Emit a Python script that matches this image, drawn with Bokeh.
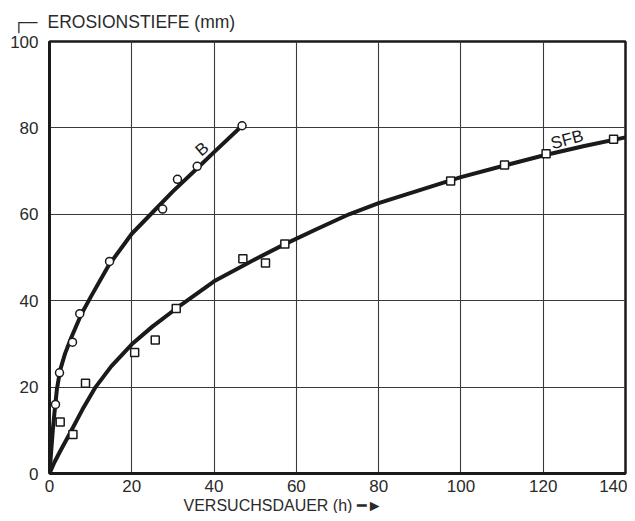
from bokeh.plotting import figure
from bokeh.models import Range1d, Label, FixedTicker, Title
from bokeh.embed import file_html
from bokeh.resources import INLINE
import math

b_hours = [1.46, 2.43, 5.59, 7.36, 14.6, 27.5, 31.1, 35.9, 46.8]
b_depth = [16.0, 23.3, 30.4, 37.0, 49.1, 61.2, 68.1, 71.1, 80.5]

sfb_hours = [2.6, 5.7, 8.75, 20.7, 25.7, 30.8, 47.0, 52.5, 57.2, 97.5, 110.6, 120.7, 137.1]
sfb_depth = [11.9, 9.0, 20.9, 28.0, 30.9, 38.2, 49.7, 48.7, 53.1, 67.7, 71.4, 74.0, 77.4]

# fitted curves as drawn
b_curve_h = [0, 0.4, 0.8, 1.2, 1.8, 2.6, 3.8, 5.3, 7.7, 10.1, 14.4, 20.0, 24.9, 30.0, 36.3, 40.0, 46.8]
b_curve_d = [0, 5.0, 10.0, 14.0, 19.5, 24.0, 27.8, 31.5, 36.8, 41.0, 48.2, 55.5, 60.3, 65.3, 71.0, 74.4, 80.5]

sfb_curve_h = [0, 1.2, 2.4, 4.9, 8.0, 11.2, 15.0, 20.0, 25.0, 30.8, 40.0, 50.0, 57.2, 65.0, 72.8, 80.0, 90.0, 100.0, 110.6, 120.0, 130.0, 140.0]
sfb_curve_d = [0, 2.6, 4.8, 9.2, 14.8, 20.0, 24.8, 29.9, 34.0, 38.2, 44.5, 49.6, 53.1, 56.6, 60.0, 62.6, 65.6, 68.6, 71.3, 73.6, 75.8, 77.8]

x_ticks = [0, 20, 40, 60, 80, 100, 120, 140]
y_ticks = [0, 20, 40, 60, 80, 100]

FONT = "Liberation Sans"
INK = "#1a1a1a"
TXT = "#2a2a2a"

p = figure(width=627, height=513, x_range=Range1d(0, 140), y_range=Range1d(0, 100),
           output_backend="svg", toolbar_location=None,
           min_border_left=49, min_border_right=2, min_border_top=4, min_border_bottom=0)

p.background_fill_color = "white"
p.border_fill_color = "white"
p.outline_line_color = INK
p.outline_line_width = 2.5

for ax, ticks in ((p.xaxis[0], x_ticks), (p.yaxis[0], y_ticks)):
    ax.ticker = FixedTicker(ticks=ticks)
    ax.axis_line_color = INK
    ax.axis_line_width = 3
    ax.major_tick_in = 0
    ax.major_tick_out = 0
    ax.minor_tick_in = 0
    ax.minor_tick_out = 0
    ax.major_label_text_font = FONT
    ax.major_label_text_font_size = "17px"
    ax.major_label_text_color = TXT

p.xaxis.major_label_standoff = 6
p.yaxis.major_label_standoff = 11

p.xgrid.ticker = FixedTicker(ticks=x_ticks[1:-1])
p.ygrid.ticker = FixedTicker(ticks=y_ticks[1:-1])
p.grid.grid_line_color = "#3a3a3a"
p.grid.grid_line_width = 1.1

# axis titles as titles in the side panels
top_title = Title(text="┌─\u2002\u200aEROSIONSTIEFE (mm)", align="left", offset=-37,
                  text_font=FONT, text_font_size="17.5px", text_font_style="normal",
                  text_color=TXT, standoff=19)
p.add_layout(top_title, "above")
bottom_title = Title(text="VERSUCHSDAUER (h) ━►", align="left", offset=134,
                     text_font=FONT, text_font_size="16px", text_font_style="normal",
                     text_color=TXT, standoff=0)
p.add_layout(bottom_title, "below")

# curves
p.line(b_curve_h, b_curve_d, line_color=INK, line_width=4)
p.line(sfb_curve_h, sfb_curve_d, line_color=INK, line_width=4)

# markers
p.scatter(b_hours, b_depth, marker="circle", size=8, line_color=INK, line_width=1.5,
          fill_color="white")
p.scatter(sfb_hours, sfb_depth, marker="square", size=8, line_color=INK, line_width=1.5,
          fill_color="white")

# curve labels
p.add_layout(Label(x=37.1, y=75.1, text="B", angle=math.radians(40),
                   text_font=FONT, text_font_size="17px", text_color=INK,
                   text_align="center", text_baseline="middle"))
p.add_layout(Label(x=125.8, y=77.3, text="SFB", angle=math.radians(15),
                   text_font=FONT, text_font_size="17px", text_color=INK,
                   text_align="center", text_baseline="middle"))

open("out.html", "w").write(file_html(p, INLINE))
